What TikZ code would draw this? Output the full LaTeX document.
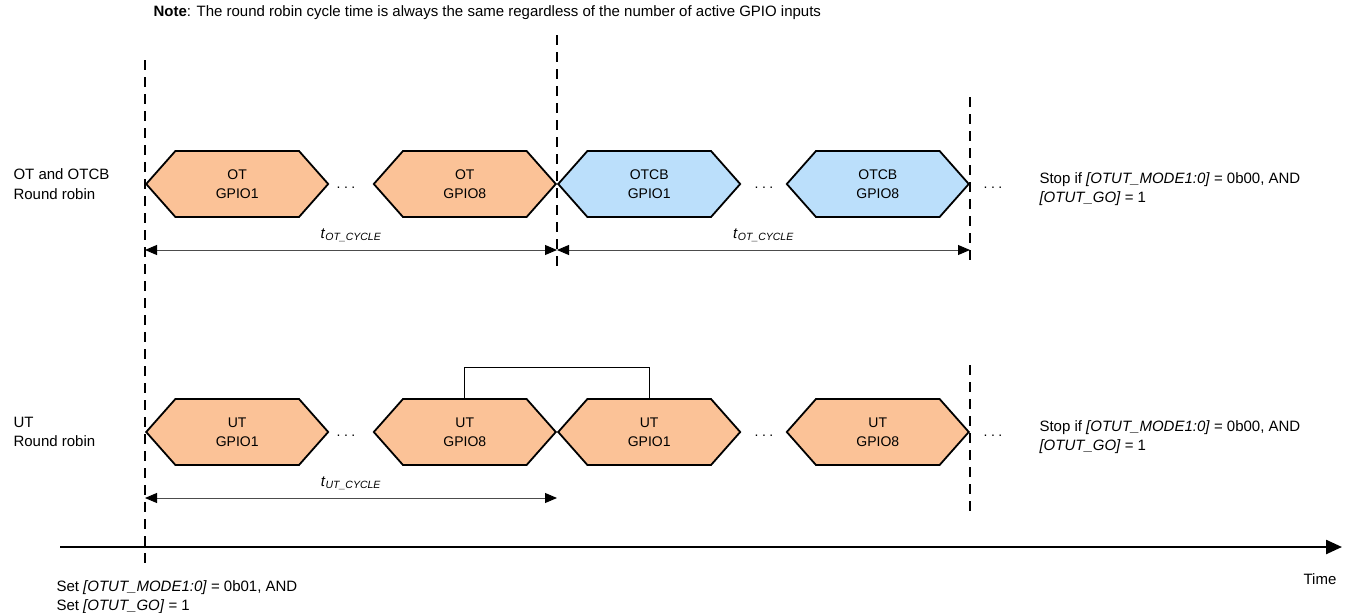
\documentclass[tikz,border=0pt]{standalone}
\usepackage{fontspec}
\setmainfont{Liberation Sans}
\usetikzlibrary{arrows.meta,shapes.symbols}

\definecolor{otfill}{RGB}{251,194,151}
\definecolor{cbfill}{RGB}{187,223,251}

\tikzset{
    slot/.style={signal, signal to=west and east, signal pointer angle=97,
        draw, line width=1.8pt, minimum width=182pt, minimum height=66pt,
        inner sep=0pt, align=center, font=\fontsize{14}{19}\selectfont},
    txt/.style={font=\fontsize{15}{19.5}\selectfont},
    guide/.style={line width=1.4pt, dash pattern=on 10pt off 7pt},
    dim/.style={line width=0.9pt, draw=black!70,
        {Triangle[length=12pt,width=10pt,color=black]}-{Triangle[length=12pt,width=10pt,color=black]}},
    timeaxis/.style={line width=2.4pt, -{Triangle[length=16pt,width=14pt]}},
    dots/.style={font=\fontsize{14}{14}\selectfont, inner sep=0pt},
}

\newcommand{\cyc}[1]{\textit{t}\textsubscript{\textit{#1\_CYCLE}}}

\begin{document}
\begin{tikzpicture}[x=1pt, y=-1pt]
    \useasboundingbox (0,0) rectangle (1350,613);

    \node [txt, anchor=west] (note) at (150,13)
        {\textbf{Note}: The round robin cycle time is always the same regardless of the number of active GPIO inputs};

    % time markers
    \coordinate (g1top) at (145,60);
    \coordinate (g1bot) at (145,565);
    \coordinate (g2top) at (557,35);
    \coordinate (g2bot) at (557,267);
    \coordinate (g3top) at (970,97);
    \coordinate (g3bot) at (970,267);
    \coordinate (g4top) at (970,365);
    \coordinate (g4bot) at (970,515);

    \draw [guide] (g1top) -- (g1bot);
    \draw [guide] (g2top) -- (g2bot);
    \draw [guide] (g3top) -- (g3bot);
    \draw [guide] (g4top) -- (g4bot);

    % OT and OTCB row
    \node [txt, anchor=west, align=left] (otrow) at (10,184) {OT and OTCB\\Round robin};

    \node [slot, fill=otfill, anchor=west] (ot1) at (145,184) {OT\\GPIO1};
    \node [slot, fill=otfill, anchor=east] (ot8) at (557,184) {OT\\GPIO8};
    \node [slot, fill=cbfill, anchor=west] (cb1) at (557,184) {OTCB\\GPIO1};
    \node [slot, fill=cbfill, anchor=east] (cb8) at (970,184) {OTCB\\GPIO8};

    \node [dots] (otdotsa) at (346,188) {.\hspace{3.5pt}.\hspace{3.5pt}.};
    \node [dots] (otdotsb) at (764,188) {.\hspace{3.5pt}.\hspace{3.5pt}.};
    \node [dots] (otdotsc) at (993,188) {.\hspace{3.5pt}.\hspace{3.5pt}.};

    \node [txt, anchor=west, align=left] (otstop) at (1036,189)
        {Stop if \textit{[OTUT\_MODE1:0]} = 0b00, AND\\\textit{[OTUT\_GO]} = 1};

    \coordinate (otcyca) at (145,250);
    \coordinate (otcycb) at (557,250);
    \coordinate (otcycc) at (970,250);

    \draw [dim]
        (otcyca) -- node [txt, above=4pt] (otlaba) {\cyc{OT}} (otcycb)
        ;
    \draw [dim]
        (otcycb) -- node [txt, above=4pt] (otlabb) {\cyc{OT}} (otcycc)
        ;

    % UT row
    \node [txt, anchor=west, align=left] (utrow) at (10,432) {UT\\Round robin};

    \node [slot, fill=otfill, anchor=west] (ut1) at (145,432) {UT\\GPIO1};
    \node [slot, fill=otfill, anchor=east] (ut8) at (557,432) {UT\\GPIO8};
    \node [slot, fill=otfill, anchor=west] (ut1b) at (557,432) {UT\\GPIO1};
    \node [slot, fill=otfill, anchor=east] (ut8b) at (970,432) {UT\\GPIO8};

    \draw [line width=1pt]
        (ut8.north) -- ++(0,-31) -| (ut1b.north)
        ;

    \node [dots] (utdotsa) at (346,436) {.\hspace{3.5pt}.\hspace{3.5pt}.};
    \node [dots] (utdotsb) at (764,436) {.\hspace{3.5pt}.\hspace{3.5pt}.};
    \node [dots] (utdotsc) at (993,436) {.\hspace{3.5pt}.\hspace{3.5pt}.};

    \node [txt, anchor=west, align=left] (utstop) at (1036,437)
        {Stop if \textit{[OTUT\_MODE1:0]} = 0b00, AND\\\textit{[OTUT\_GO]} = 1};

    \coordinate (utcyca) at (145,498);
    \coordinate (utcycb) at (557,498);

    \draw [dim]
        (utcyca) -- node [txt, above=4pt] (utlab) {\cyc{UT}} (utcycb)
        ;

    % time axis
    \coordinate (axstart) at (60,547);
    \coordinate (axend) at (1342,547);
    \draw [timeaxis] (axstart) -- (axend);

    \node [txt] (timelab) at (1320,579) {Time};

    \node [txt, anchor=west, align=left] (setlab) at (53,597)
        {Set \textit{[OTUT\_MODE1:0]} = 0b01, AND\\Set \textit{[OTUT\_GO]} = 1};
\end{tikzpicture}
\end{document}
